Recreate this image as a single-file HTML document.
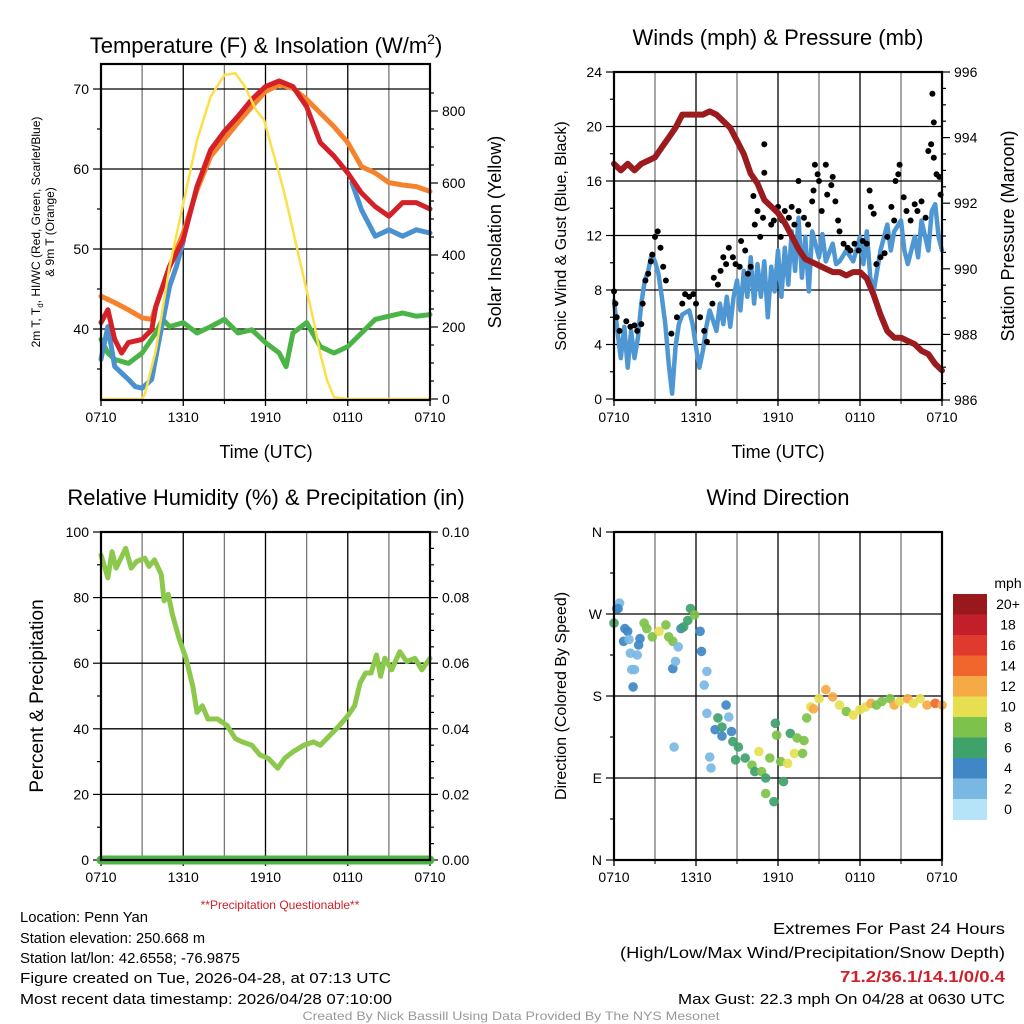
<!DOCTYPE html>
<html><head><meta charset="utf-8"><style>
html,body{margin:0;padding:0;background:#fff}
svg{display:block;font-family:"Liberation Sans",sans-serif}
</style></head><body>
<svg id="fig" width="1024" height="1024" viewBox="0 0 1024 1024" xmlns="http://www.w3.org/2000/svg">
<rect width="1024" height="1024" fill="#fff"/>
<g id="p1"></g>
<g id="p2"></g>
<g id="p3"></g>
<g id="p4"></g>
<g font-size="22" text-anchor="middle" fill="#000">
<text x="266" y="53">Temperature (F) &amp; Insolation (W/m<tspan dy="-9" font-size="14">2</tspan><tspan dy="9">)</tspan></text>
<text x="778" y="45">Winds (mph) &amp; Pressure (mb)</text>
<text x="266" y="505">Relative Humidity (%) &amp; Precipitation (in)</text>
<text x="778" y="505">Wind Direction</text>
</g>
<g font-size="18" text-anchor="middle" fill="#000">
<text x="266" y="458">Time (UTC)</text>
<text x="778" y="458">Time (UTC)</text>
<text transform="translate(501,232) rotate(-90)">Solar Insolation (Yellow)</text>
<text transform="translate(1014,236) rotate(-90)">Station Pressure (Maroon)</text>
<text transform="translate(566,236) rotate(-90)" font-size="16">Sonic Wind &amp; Gust (Blue, Black)</text>
<text transform="translate(43,696) rotate(-90)" font-size="19">Percent &amp; Precipitation</text>
<text transform="translate(566,696) rotate(-90)" font-size="16">Direction (Colored By Speed)</text>
<text transform="translate(40,232) rotate(-90)" font-size="12">2m T, T<tspan font-size="8" dy="3">d</tspan><tspan dy="-3">, HI/WC (Red, Green, Scarlet/Blue)</tspan></text>
<text transform="translate(54,232) rotate(-90)" font-size="12">&amp; 9m T (Orange)</text>
</g>
<g id="cbar"></g>
<g fill="#000" font-size="15">
<text x="280" y="909" font-size="12" fill="#d0202a" text-anchor="middle">**Precipitation Questionable**</text>
<text x="20" y="922" textLength="128" lengthAdjust="spacingAndGlyphs">Location: Penn Yan</text>
<text x="20" y="943" textLength="185" lengthAdjust="spacingAndGlyphs">Station elevation: 250.668 m</text>
<text x="20" y="963" textLength="220" lengthAdjust="spacingAndGlyphs">Station lat/lon: 42.6558; -76.9875</text>
<text x="20" y="983" textLength="371" lengthAdjust="spacingAndGlyphs">Figure created on Tue, 2026-04-28, at 07:13 UTC</text>
<text x="20" y="1004" textLength="372" lengthAdjust="spacingAndGlyphs">Most recent data timestamp: 2026/04/28 07:10:00</text>
<text x="1005" y="934" text-anchor="end" font-size="16" textLength="232" lengthAdjust="spacingAndGlyphs">Extremes For Past 24 Hours</text>
<text x="1005" y="958" text-anchor="end" font-size="16" textLength="385" lengthAdjust="spacingAndGlyphs">(High/Low/Max Wind/Precipitation/Snow Depth)</text>
<text x="1005" y="982" text-anchor="end" font-size="16" font-weight="bold" fill="#d0202a" textLength="165" lengthAdjust="spacingAndGlyphs">71.2/36.1/14.1/0/0.4</text>
<text x="1005" y="1004" text-anchor="end" textLength="327" lengthAdjust="spacingAndGlyphs">Max Gust: 22.3 mph On 04/28 at 0630 UTC</text>
<text x="511" y="1020" text-anchor="middle" font-size="12" fill="#999" textLength="417" lengthAdjust="spacingAndGlyphs">Created By Nick Bassill Using Data Provided By The NYS Mesonet</text>
</g>
</svg>
<script>
// ---------- data ----------
const timeTickLabels = ["0710","1310","1910","0110","0710"];
const tempTicks = [40,50,60,70];
const solarTicks = [0,200,400,600,800];
const windTicks = [0,4,8,12,16,20,24];
const presTicks = [986,988,990,992,994,996];
const rhTicks = [0,20,40,60,80,100];
const precipTicks = ["0.00","0.02","0.04","0.06","0.08","0.10"];
const dirTickLabels = ["N","E","S","W","N"];
const speedLabels = ["0","2","4","6","8","10","12","14","16","18","20+"];
const speedColors = ["#b5e3f8","#7ab8e4","#3f88c5","#3fa26b","#7dc24a","#e6e050","#f6aa45","#f0662c","#e03a2e","#c21f2a","#98181c"];

const tRedH = [0,0.5,1,1.5,2,3,3.7,4,5,6,7,8,9,10,11,12,13,14,15,16,17,18,19,20,21,22,23,24];
const tRed  = [40.8,42.4,38.7,37,38.3,38.7,39.9,42.8,47.8,51.2,57.8,62.4,64.7,66.6,68.7,70.3,71,70.3,67.8,63.3,61.6,59.5,57,55.3,54.1,55.8,55.8,55];
const tBlueH1 = [0,0.5,1,1.5,2,2.5,3,3.7,4.2,5,5.5,6];
const tBlue1  = [36.2,40.3,35.3,34.5,33.7,32.8,32.6,33.7,38.3,45.3,47.8,51];
const tBlueH2 = [18.3,19,20,21,22,23,24];
const tBlue2  = [58.3,54.9,51.6,52.4,51.6,52.4,52];
const tOrgH = [0,1,2,3,3.7,4,5,6,7,8,9,10,11,12,13,14,15,16,17,18,19,20,21,22,23,24];
const tOrg  = [44.1,43.3,42.4,41.4,41.2,42.8,47.8,52,57.4,61.6,63.7,65.8,67.8,69.7,70.5,70.1,68.7,67,65.3,63.3,60.3,59.5,58.3,58,57.8,57.2];
const tGrnH = [0,0.5,1,2,3,4,4.5,5,6,7,8,9,10,11,12,13,13.5,14,15,16,17,18,19,20,21,22,23,24];
const tGrn  = [38.7,37,36.2,35.7,37,39.5,41.2,40.3,40.8,39.5,40.3,41.2,39.5,39.9,38.3,37,35.3,39.5,40.8,37.8,37,37.8,39.5,41.2,41.6,42,41.6,41.8];
const solH = [0,3,3.2,4,5,6,7,8,9,9.8,10.5,11.3,11.9,12.5,13,13.5,14,14.5,15,15.5,16,16.5,17,18,24];
const sol  = [0,0,14,135,367,543,719,840,900,905,868,803,775,691,626,552,469,385,302,218,125,51,5,0,0];

const presH = [0,0.5,1,1.5,2,2.5,3,3.5,4,4.5,5,5.5,6,6.5,7,7.5,8,8.5,9,9.5,10,10.5,11,11.5,12,12.5,13,13.5,14,14.5,15,15.5,16,16.5,17,17.5,18,18.5,19,19.5,20,20.5,21,21.5,22,22.5,23,23.5,24];
const pres  = [993.2,993.0,993.2,993.0,993.2,993.3,993.4,993.7,994.0,994.3,994.7,994.7,994.7,994.7,994.8,994.7,994.5,994.3,993.9,993.5,992.9,992.6,992.1,991.9,991.7,991.4,991.0,990.6,990.3,990.2,990.1,990.0,989.9,989.9,989.8,989.9,989.9,989.7,989.2,988.6,988.1,987.9,987.9,987.8,987.7,987.5,987.4,987.1,986.9];
const windH = [0,0.25,0.5,0.75,1,1.25,1.5,1.75,2,2.25,2.5,2.75,3,3.25,3.5,3.75,4,4.25,4.5,4.75,5,5.5,5.75,6,6.25,6.5,6.75,7,7.5,7.75,8,8.25,8.5,8.75,9,9.25,9.5,9.75,10,10.25,10.5,10.75,11,11.25,11.5,11.75,12,12.25,12.5,12.75,13,13.25,13.5,13.75,14,14.25,14.5,15,15.25,15.5,16,16.25,16.5,17,17.5,18,18.25,18.5,18.75,19,19.25,19.5,20,20.25,20.5,21,21.25,21.5,22,22.25,22.5,23,23.25,23.5,23.75,24];
const wind  = [7.2,5,3,5.3,2.3,5,3,4.5,7,8.7,9.4,10.6,10.1,9.2,7.5,5.5,2.6,0.4,3.8,5.5,6.2,6.5,5.5,3.8,2.3,3.5,5.3,6.5,5,7,5.5,7.5,5.3,7.5,8.7,6.5,9.4,7.5,10.4,7,9.9,7.5,10.1,6,9.7,7.9,10.9,7.5,11.1,8.4,12.3,9.4,13.3,8.9,11.9,7.9,12.3,10.4,12.1,10.1,11.4,9.9,10.1,10.9,10.1,11.9,9.9,12.3,8.9,7.9,9.4,10.9,12.8,10.9,12.3,13.1,10.9,9.9,11.9,10.4,13.1,10.9,13.8,14.3,11.9,10.9];
const gustH = [0,0.1,0.2,0.4,0.9,1.2,1.5,1.7,2.0,2.1,2.3,2.5,2.7,2.8,3.0,3.2,3.4,3.6,3.8,4.2,4.6,5.0,5.2,5.5,5.8,6.0,6.3,6.6,6.8,7.2,7.3,7.6,7.8,8.0,8.2,8.4,8.7,8.9,9.2,9.3,9.6,9.8,10.0,10.2,10.3,10.5,10.7,10.9,11.0,11.0,11.5,11.7,12.0,12.2,12.3,12.5,12.8,13.0,13.2,13.5,13.5,13.9,14.2,14.5,14.6,14.7,14.9,15.0,15.2,15.5,15.6,15.9,16.0,16.2,16.4,16.5,16.8,17.1,17.3,17.6,17.9,18.2,18.5,18.7,18.8,19.0,19.2,19.5,19.8,20.0,20.3,20.5,20.6,20.8,20.9,21.2,21.4,21.7,22.0,22.2,22.5,22.8,23.0,23.2,23.4,23.3,23.4,23.6,23.8,23.9];
const gust  = [7.9,7,6,5,5.7,5.3,5.4,5,5.5,7,8.7,9.2,10.1,10.6,11.9,12.3,11.1,9.7,8.7,4.8,6,7,7.7,7.5,7.7,7,6,5,4.2,7,8.9,8.4,9.4,10.4,9.9,11.1,10.4,9.9,9.7,11.6,10.9,9.2,9.7,14.9,12.8,13.8,11.9,13.3,18.7,16.6,12.8,13.1,14.1,11.9,13.1,13.8,13.3,14.1,12.8,13.8,16,13.3,12.8,14.5,15.3,17.2,16.5,16,13.8,17.2,15,15.7,16.3,14.5,13.1,12.3,11.4,11.1,10.9,11.4,10.9,11.6,11.4,15.3,14.1,13.6,9.9,10.4,10.7,11.9,14.1,13.1,16,16.5,17.2,14.8,13.8,13.1,14.3,13.8,14.5,13.3,18.2,18.7,17.7,22.4,20.3,16.5,16.3,15];
const rhH = [0,0.5,0.8,1.1,1.8,2.2,2.6,3.2,3.5,3.9,4.4,4.6,4.9,5.2,5.7,6.2,6.7,7.0,7.4,7.8,8.5,9.2,9.8,10.3,11,11.6,12.2,12.9,13.4,14,14.8,15.5,16,16.7,17.4,18,18.5,18.9,19.3,19.7,20.1,20.4,20.7,21.2,21.8,22.3,22.9,23.4,24];
const rh  = [93,86,94,89,95,89,91,92,89.5,91.5,87,79,81,75,67.5,61.5,53,45,47,43,43,41,37,36,35,32,31,28,31,33,35,36,35,38,41,44,47,54,57,57,62.5,56,61.5,58,63.5,60.5,61.5,58,61.5];
const dirH = [0,0.2,0.4,0.3,0.8,1,0.7,1.1,1.2,1.7,1.3,1.5,1.4,1.8,1.9,2.2,2.4,2.8,3.3,3.8,4,4.3,4.3,4.5,4.7,4.9,5.1,5.4,5.6,5.9,6.3,6.4,6.8,6.6,4.4,6.8,7,7.1,7.4,7.6,7.9,8.2,8.4,8.6,7.9,8.7,8.9,9.1,9.6,10.1,10.6,10.3,10.8,11.1,11.4,11.1,11.7,11.8,11.9,12.2,12.4,12.7,12.9,13.2,13.4,13.8,13.9,14.1,14.4,14.6,15,15.5,16,16.5,17,17.5,18,18.4,18.8,19.2,19.6,20.2,20.5,20.9,21.5,21.9,22.4,22.9,23.5,24];
const dirDeg = [260,276,282,276,254,251,240,242,227,225,209,209,190,236,243,260,254,245,251,258,245,240,210,218,234,254,256,263,276,269,251,229,207,192,124,161,113,101,143,156,146,170,157,141,136,130,110,124,112,104,119,97,97,90,112,73,64,150,137,108,86,106,139,117,134,117,131,156,168,166,177,187,179,170,163,159,165,168,172,170,174,177,170,174,177,172,177,170,172,170];
const dirSpd = [6,4,2,4,4,4,4,2,2,2,2,2,4,4,4,8,8,8,10,8,8,8,4,2,2,4,6,6,6,8,4,4,2,2,2,2,2,2,4,6,6,4,2,4,4,6,6,6,6,8,10,6,8,6,8,8,6,6,8,8,6,10,6,10,8,8,8,8,10,12,10,12,12,10,8,10,10,10,12,8,8,8,12,10,12,10,10,12,14,12];

// ---------- helpers ----------
const NS = "http://www.w3.org/2000/svg";
function mk(parent, tag, attrs){ const e=document.createElementNS(NS,tag); for(const k in attrs) e.setAttribute(k,attrs[k]); parent.appendChild(e); return e; }
function lin(d0,d1,r0,r1){ return v=>r0+(v-d0)*(r1-r0)/(d1-d0); }
function pathOf(xs,ys,fx,fy){ return xs.map((h,i)=>(i?"L":"M")+fx(h).toFixed(1)+","+fy(ys[i]).toFixed(1)).join(""); }

function frame(g, L, R, T, B, name){
  const vlines = [];
  for(let h=3; h<24; h+=3) vlines.push(h);
  const fx = lin(0,24,L,R);
  vlines.forEach(h=>{
    const l=mk(g,"line",{x1:fx(h),x2:fx(h),y1:T,y2:B,stroke:(h%6===0)?"#000":"#777","stroke-width":1.3});
    
    
  });
  timeTickLabels.forEach((s,i)=>{
    const x=fx(i*6);
    const t=mk(g,"line",{x1:x,x2:x,y1:B,y2:B+6,stroke:"#000","stroke-width":1.3});
    
    
    const tx=mk(g,"text",{x:x,y:B+22,"font-size":14,"text-anchor":"middle"}); tx.textContent=s;
    
    
  });
  for(let h=3; h<24; h+=6){
    const x=fx(h);
    const t=mk(g,"line",{x1:x,x2:x,y1:B,y2:B+4,stroke:"#000","stroke-width":1});
    
    
  }
  return fx;
}
function hgrid(g,L,R,y,name){
  const l=mk(g,"line",{x1:L,x2:R,y1:y,y2:y,stroke:"#000","stroke-width":1.3});
  
  
}
function ytick(g,x,y,len,label,anchor,name,fs){
  const t=mk(g,"line",{x1:x,x2:x+len,y1:y,y2:y,stroke:"#000","stroke-width":1.2});
  
  
  if(label!==null){
    const tx=mk(g,"text",{x:x+len+(len<0?-4:4),y:y+5,"font-size":fs||14,"text-anchor":anchor}); tx.textContent=label;
    
    
  }
}
function border(g,L,R,T,B,name){
  const r=mk(g,"rect",{x:L,y:T,width:R-L,height:B-T,fill:"none",stroke:"#000","stroke-width":2.2});
  
  
}
function series(g,d,color,w,name){
  const p=mk(g,"path",{d:d,fill:"none",stroke:color,"stroke-width":w,"stroke-linejoin":"round","stroke-linecap":"round"});
  
  
}

// ---------- panel 1 ----------
(function(){
  const g=document.getElementById("p1"), L=101,R=430,T=64,B=400;
  const fx=frame(g,L,R,T,B,"temperature");
  const fy=lin(40,70,329,89);
  const fs=lin(0,800,399,111);
  tempTicks.forEach(v=>{hgrid(g,L,R,fy(v),"temperature"); ytick(g,L,fy(v),-8,String(v),"end","temperature-y");});
  [35,45,55,65].forEach(v=>ytick(g,L,fy(v),-4,null,"end","temperature-y-minor"));
  solarTicks.forEach(v=>ytick(g,R,fs(v),8,String(v),"start","insolation-y"));
  for(let v=50;v<900;v+=50){ if(v%200) ytick(g,R,fs(v),4,null,"start","insolation-y-minor"); }
  series(g,pathOf(tGrnH,tGrn,fx,fy),"#4bb446",5,"dewpoint-line");
  series(g,pathOf(tOrgH,tOrg,fx,fy),"#f5822d",5,"temp-9m-line");
  series(g,pathOf(tBlueH1,tBlue1,fx,fy),"#4a91cf",5,"windchill-line-morning");
  series(g,pathOf(tBlueH2,tBlue2,fx,fy),"#4a91cf",5,"windchill-line-evening");
  series(g,pathOf(tRedH,tRed,fx,fy),"#d42027",5,"temp-2m-line");
  series(g,pathOf(solH,sol,fx,fs),"#fbe04a",2.5,"insolation-line");
  border(g,L,R,T,B,"temperature");
})();

// ---------- panel 2 ----------
(function(){
  const g=document.getElementById("p2"), L=614,R=942,T=72,B=400;
  const fx=frame(g,L,R,T,B,"wind");
  const fy=lin(0,24,399,72);
  const fp=lin(986,996,400,72);
  windTicks.forEach(v=>{ if(v>0&&v<24) hgrid(g,L,R,fy(v),"wind"); ytick(g,L,fy(v),-8,String(v),"end","wind-y");});
  [2,6,10,14,18,22].forEach(v=>ytick(g,L,fy(v),-4,null,"end","wind-y-minor"));
  presTicks.forEach(v=>ytick(g,R,fp(v),8,String(v),"start","pressure-y"));
  for(let v=986.5;v<996;v+=0.5){ if(v%2) ytick(g,R,fp(v),4,null,"start","pressure-y-minor"); }
  series(g,pathOf(windH,wind,fx,fy),"#4f97d3",4.5,"sonic-wind-line");
  gustH.forEach((h,i)=>{
    const c=mk(g,"circle",{cx:fx(h).toFixed(1),cy:fy(gust[i]).toFixed(1),r:3,fill:"#000"});
    
    
  });
  series(g,pathOf(presH,pres,fx,fp),"#9b1b1e",6,"pressure-line");
  border(g,L,R,T,B,"wind");
})();

// ---------- panel 3 ----------
(function(){
  const g=document.getElementById("p3"), L=101,R=430,T=532,B=860;
  const fx=frame(g,L,R,T,B,"humidity");
  const fy=lin(0,100,860,532);
  rhTicks.forEach((v,i)=>{ if(v>0&&v<100) hgrid(g,L,R,fy(v),"humidity"); ytick(g,L,fy(v),-8,String(v),"end","humidity-y"); ytick(g,R,fy(v),8,precipTicks[i],"start","precip-y");});
  for(let v=10;v<100;v+=20){ ytick(g,L,fy(v),-4,null,"end","humidity-y-minor"); }
  for(let v=5;v<100;v+=5){ if(v%20) ytick(g,R,fy(v),4,null,"start","precip-y-minor"); }
  series(g,pathOf(rhH,rh,fx,fy),"#8cc84b",5,"humidity-line");
  series(g,"M"+fx(0)+","+fy(0)+"L"+fx(24)+","+fy(0),"#4bb446",9,"precipitation-line");
  border(g,L,R,T,B,"humidity");
})();

// ---------- panel 4 ----------
(function(){
  const g=document.getElementById("p4"), L=614,R=942,T=532,B=860;
  const fx=frame(g,L,R,T,B,"direction");
  const fy=lin(0,360,860,532);
  dirTickLabels.forEach((s,i)=>{ const v=i*90; if(v>0&&v<360) hgrid(g,L,R,fy(v),"direction"); ytick(g,L,fy(v),-8,s,"end","direction-y");});
  for(let v=45;v<360;v+=90) ytick(g,L,fy(v),-4,null,"end","direction-y-minor");
  dirH.forEach((h,i)=>{
    const idx=Math.min(10,Math.floor(dirSpd[i]/2));
    const c=mk(g,"circle",{cx:fx(h).toFixed(1),cy:fy(dirDeg[i]).toFixed(1),r:4.8,fill:speedColors[idx],opacity:0.92});
    
    
  });
  border(g,L,R,T,B,"direction");
})();

// ---------- colorbar ----------
(function(){
  const g=document.getElementById("cbar");
  const top=594, h=20.5, x=953, w=34;
  const u=mk(g,"text",{x:1008,y:588,"font-size":14,"text-anchor":"middle"}); u.textContent="mph";
  
  
  for(let i=0;i<speedColors.length;i++){
    const k=speedColors.length-1-i;
    const r=mk(g,"rect",{x:x,y:top+i*h,width:w,height:h+0.5,fill:speedColors[k]});
    
    
    const t=mk(g,"text",{x:1008,y:top+i*h+15,"font-size":14,"text-anchor":"middle"}); t.textContent=speedLabels[k];
    
    
  }
})();
</script>
</body></html>
